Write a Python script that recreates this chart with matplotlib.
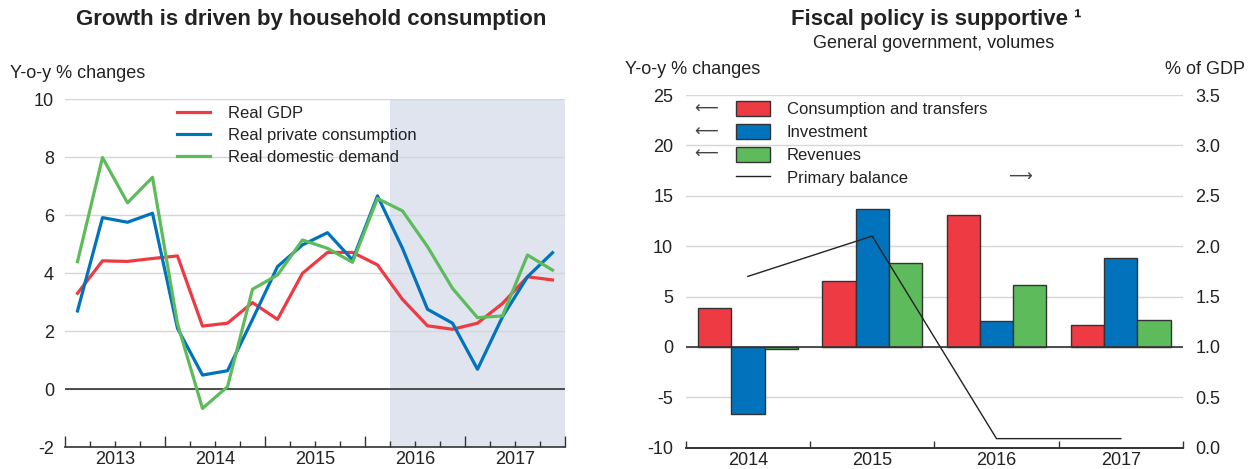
import matplotlib
matplotlib.use("Agg")
import matplotlib.pyplot as plt
from matplotlib.patches import Patch
from matplotlib.lines import Line2D
import numpy as np

plt.rcParams['font.family'] = ['Liberation Sans', 'DejaVu Sans']
plt.rcParams['axes.unicode_minus'] = False

# left panel: quarterly y-o-y % changes, 2013Q1 - 2017Q4
years = ['2013', '2014', '2015', '2016', '2017']
real_gdp = [3.30, 4.42, 4.40, 4.50, 4.59, 2.17, 2.27, 2.98, 2.40, 3.99,
            4.71, 4.71, 4.28, 3.09, 2.18, 2.06, 2.27, 2.95, 3.87, 3.76]
private_cons = [2.69, 5.91, 5.75, 6.06, 2.09, 0.48, 0.63, 2.40, 4.22, 4.97,
                5.39, 4.45, 6.66, 4.85, 2.75, 2.27, 0.68, 2.49, 3.87, 4.70]
domestic_demand = [4.39, 7.98, 6.42, 7.30, 2.25, -0.67, 0.08, 3.44, 3.93, 5.14,
                   4.85, 4.37, 6.57, 6.14, 4.91, 3.47, 2.46, 2.52, 4.62, 4.10]

# right panel: annual
fy = ['2014', '2015', '2016', '2017']
consumption_transfers = [3.85, 6.55, 13.10, 2.15]
investment = [-6.65, 13.67, 2.55, 8.81]
revenues = [-0.23, 8.37, 6.19, 2.71]
primary_balance = [1.70, 2.10, 0.09, 0.09]

RED = '#EE3A42'
BLUE = '#0173BC'
GREEN = '#5DBB5C'
TXT = '#222222'
GRID = '#d6d6d6'
DARK = '#333333'

W, H = 1253, 469
fig = plt.figure(figsize=(W / 100, H / 100), dpi=100)

# ---------------- left panel ----------------
ax1 = fig.add_axes([65 / W, 1 - 447 / H, 500 / W, 348 / H])
n = len(real_gdp)
x = np.arange(n)
ax1.axvspan(12.5, n - 0.5, color='#dfe4ee', lw=0, zorder=0)
ax1.set_xlim(-0.5, n - 0.5)
ax1.set_ylim(-2, 10)
ax1.set_yticks(range(-2, 11, 2))
ax1.yaxis.grid(True, color=GRID, lw=1)
ax1.set_axisbelow(True)
ax1.axhline(0, color=DARK, lw=1.2, zorder=1)

ax1.plot(x, real_gdp, color=RED, lw=2.3, label='Real GDP', zorder=3)
ax1.plot(x, private_cons, color=BLUE, lw=2.3, label='Real private consumption', zorder=3)
ax1.plot(x, domestic_demand, color=GREEN, lw=2.3, label='Real domestic demand', zorder=3)

year_bounds = np.arange(-0.5, n, 4)
quarter_bounds = [q for q in np.arange(-0.5, n, 1) if q not in year_bounds]
ax1.set_xticks(year_bounds)
ax1.set_xticklabels([])
centers = [b + 2 for b in year_bounds[:-1]]
ax1.set_xticks(quarter_bounds, minor=True)
ax1.set_xticklabels([years[centers.index(q)] if q in centers else '' for q in quarter_bounds],
                    minor=True)
ax1.tick_params(axis='x', which='major', direction='in', length=8, width=1, color=DARK)
ax1.tick_params(axis='x', which='minor', direction='in', length=4, width=1, color=DARK,
                labelsize=13, labelcolor=TXT, pad=3)
ax1.tick_params(axis='y', length=0, labelsize=13, labelcolor=TXT, pad=8)
for s in ['top', 'left', 'right']:
    ax1.spines[s].set_visible(False)
ax1.spines['bottom'].set_color(DARK)
ax1.spines['bottom'].set_linewidth(1.2)

ax1.legend(loc='upper left', bbox_to_anchor=((177 - 65) / 500, (447 - 106) / 348),
           frameon=False, fontsize=12, handlelength=2.0, handletextpad=1.05,
           labelspacing=0.42, borderpad=0, borderaxespad=0, labelcolor=TXT)

# ---------------- right panel ----------------
ax2 = fig.add_axes([685.7 / W, 1 - 447.7 / H, 497.3 / W, 352.7 / H])
ax2r = ax2.twinx()
xg = np.arange(len(fy))
bw = 0.268
ax2.set_xlim(-0.5, len(fy) - 0.5)
ax2.set_ylim(-10, 25)
ax2r.set_ylim(0, 3.5)
ax2.set_yticks(range(-10, 26, 5))
ax2r.set_yticks(np.arange(0, 3.51, 0.5))
ax2r.set_yticklabels(['%.1f' % v for v in np.arange(0, 3.51, 0.5)])
ax2.yaxis.grid(True, color=GRID, lw=1)
ax2.set_axisbelow(True)

ax2.bar(xg - bw, consumption_transfers, bw, color=RED, edgecolor=DARK, lw=1, zorder=2)
ax2.bar(xg, investment, bw, color=BLUE, edgecolor=DARK, lw=1, zorder=2)
ax2.bar(xg + bw, revenues, bw, color=GREEN, edgecolor=DARK, lw=1, zorder=2)
ax2.axhline(0, color=DARK, lw=1.2, zorder=3)
ax2r.plot(xg, primary_balance, color=TXT, lw=1)

bounds = np.arange(-0.5, len(fy), 1)
ax2.set_xticks(bounds)
ax2.set_xticklabels([])
ax2.set_xticks(xg, minor=True)
ax2.set_xticklabels(fy, minor=True)
ax2.tick_params(axis='x', which='major', direction='in', length=5, width=1, color=DARK)
ax2.tick_params(axis='x', which='minor', length=0, labelsize=13, labelcolor=TXT, pad=3)
ax2.tick_params(axis='y', length=0, labelsize=13, labelcolor=TXT, pad=9)
ax2r.tick_params(axis='y', length=0, labelsize=13, labelcolor=TXT, pad=9)
for a in (ax2, ax2r):
    for s in ['top', 'left', 'right']:
        a.spines[s].set_visible(False)
    a.spines['bottom'].set_color(DARK)
    a.spines['bottom'].set_linewidth(1.2)

handles = [Patch(facecolor=RED, edgecolor=DARK, lw=1),
           Patch(facecolor=BLUE, edgecolor=DARK, lw=1),
           Patch(facecolor=GREEN, edgecolor=DARK, lw=1),
           Line2D([], [], color=TXT, lw=1)]
labels = ['Consumption and transfers', 'Investment', 'Revenues', 'Primary balance']
ax2r.legend(handles, labels, loc='upper left',
            bbox_to_anchor=((736 - 685.7) / 497.3, (447.7 - 101) / 352.7),
            frameon=False, fontsize=12, handlelength=2.05, handleheight=1.0,
            handletextpad=1.0, labelspacing=0.4, borderpad=0, borderaxespad=0,
            labelcolor=TXT)

for yy in (109, 131.7, 154):
    fig.text(706 / W, 1 - yy / H, '\u27f5', fontsize=12, color='#444444', ha='center',
             va='center', family=['DejaVu Sans'])
fig.text(1020 / W, 1 - 176.7 / H, '\u27f6', fontsize=12, color='#444444', ha='center',
         va='center', family=['DejaVu Sans'])

# ---------------- titles and axis captions ----------------
fig.text(311 / W, 1 - 20 / H, 'Growth is driven by household consumption',
         fontsize=16, weight='bold', color=TXT, ha='center', va='center')
fig.text(936 / W, 1 - 20 / H, 'Fiscal policy is supportive \u00b9',
         fontsize=16, weight='bold', color=TXT, ha='center', va='center')
fig.text(934 / W, 1 - 43 / H, 'General government, volumes',
         fontsize=13, color=TXT, ha='center', va='center')
fig.text(10 / W, 1 - 73 / H, 'Y-o-y % changes', fontsize=13, color=TXT, ha='left', va='center')
fig.text(625 / W, 1 - 70 / H, 'Y-o-y % changes', fontsize=13, color=TXT, ha='left', va='center')
fig.text(1245 / W, 1 - 70 / H, '% of GDP', fontsize=13, color=TXT, ha='right', va='center')

fig.savefig('out.png', dpi=100)
